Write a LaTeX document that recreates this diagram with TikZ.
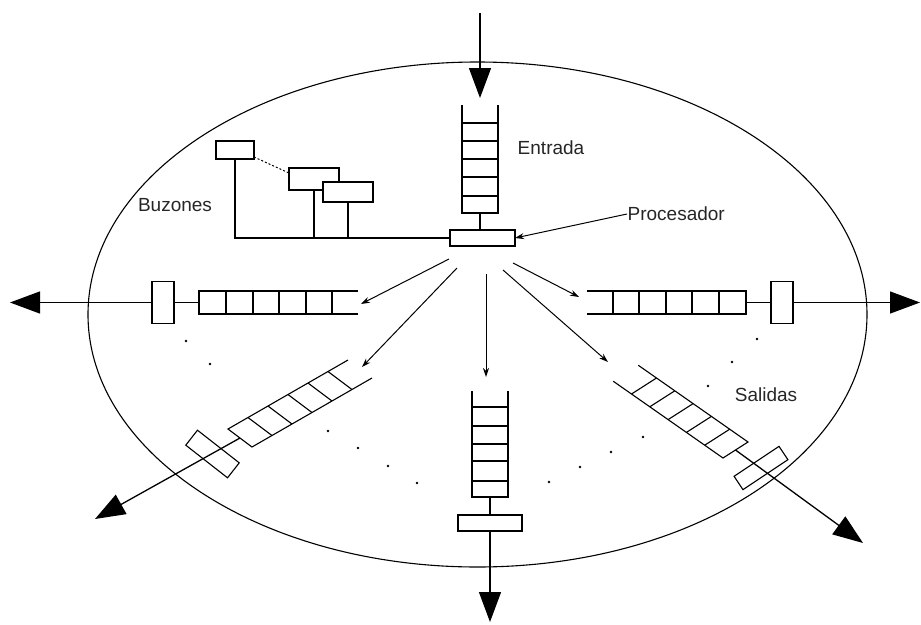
\documentclass[tikz,border=0pt]{standalone}
\usepackage{fontspec}
\setmainfont{Liberation Sans}
\usetikzlibrary{arrows.meta,calc}
\begin{document}
\begin{tikzpicture}[x=1pt,y=-1pt, line width=1.3pt,
  box/.style={draw, fill=white, inner sep=0pt, outer sep=0pt, line width=1.3pt},
  rbox/.style={draw, inner sep=0pt, outer sep=0pt, line width=1.1pt},
  lbl/.style={font=\fontsize{19}{22}\selectfont, inner sep=0pt, text=black!85},
  big/.style={-{Triangle[length=30pt,width=22pt]}},
  small/.style={-{Stealth[length=9pt,width=6pt]}, line width=1pt},
  qline/.style={line width=1.2pt},
  sline/.style={line width=1.1pt},
  dot/.style={circle, fill=black, inner sep=0pt, minimum size=2.6pt}]
\useasboundingbox (0,0) rectangle (921,624);

% outer ellipse
\draw[line width=1.1pt] (477.5,314.5) ellipse [x radius=389.5, y radius=252.5];

% labels
\node[lbl] (entrada) at (551,148) {Entrada};
\node[lbl] (buzones) at (175,205) {Buzones};
\node[lbl, anchor=west] (proclbl) at (627,214) {Procesador};
\node[lbl] (salidas) at (766,395) {Salidas};

% processor
\node[box, minimum width=65pt, minimum height=16pt] (proc) at (482.5,238) {};
\draw[small] (proclbl.west) -- (proc.east);

% mailboxes
\node[box, minimum width=38pt, minimum height=18pt] (mb1) at (235,150) {};
\node[box, minimum width=50pt, minimum height=22pt] (mb2) at (314,179) {};
\node[box, minimum width=50pt, minimum height=20pt] (mb3) at (348,192) {};
\draw (mb1.south) |- (proc.west);
\draw (mb2.south) -- (mb2.south |- proc.west);
\draw (mb3.south) -- (mb3.south |- proc.west);
\draw[line width=1pt, dash pattern=on 2pt off 2pt] ($(mb1.south east)+(0,-2)$) -- ($(mb2.north west)+(0,5)$);

% input queue (top)
\coordinate (qtopend) at (480,213);
\draw[qline] (462,105) -- (462,213) -- (498,213) -- (498,105);
\foreach \yy in {123,141,159,177,196} \draw[qline] (462,\yy) -- (498,\yy);
\draw (qtopend) -- (qtopend |- proc.north);
\coordinate (intop) at (480,13);
\coordinate (intip) at (480,98);
\draw[big] (intop) -- (intip);

% left output queue
\coordinate (qleftend) at (199,302.5);
\draw[qline] (358,291) -- (199,291) -- (199,314) -- (358,314);
\foreach \xx in {226,253,279,306,332} \draw[qline] (\xx,291) -- (\xx,314);
\node[box, minimum width=22pt, minimum height=42pt] (lbox) at (163,302.5) {};
\draw (qleftend) -- (lbox.east);
\coordinate (outleft) at (10,302.5);
\draw[big] (lbox.west) -- (outleft);

% right output queue
\coordinate (qrightend) at (746,302.5);
\draw[qline] (587,291) -- (746,291) -- (746,314) -- (587,314);
\foreach \xx in {613,639,666,692,719} \draw[qline] (\xx,291) -- (\xx,314);
\node[box, minimum width=22pt, minimum height=42pt] (rbox) at (782,302.5) {};
\draw (qrightend) -- (rbox.west);
\coordinate (outright) at (920,302.5);
\draw[big] (rbox.east) -- (outright);

% bottom output queue
\coordinate (qbotend) at (490,497);
\draw[qline] (472,391) -- (472,497) -- (508,497) -- (508,391);
\foreach \yy in {407,426,444,461,481} \draw[qline] (472,\yy) -- (508,\yy);
\node[box, minimum width=64pt, minimum height=16pt] (bbox) at (490,523) {};
\draw (qbotend) -- (bbox.north);
\coordinate (outbot) at (490,622);
\draw[big] (bbox.south) -- (outbot);

% lower-left output queue (slanted)
\coordinate (A0) at (228,429);
\coordinate (B0) at (252,447);
\draw[sline] ($(A0)+6*(20,-11.5)$) -- (A0) -- (B0) -- ($(B0)+6*(20,-11.5)$);
\foreach \i in {1,...,5} \draw[sline] ($(A0)+\i*(20,-11.5)$) -- ($(B0)+\i*(20,-11.5)$);
\coordinate (qllend) at ($(A0)!0.5!(B0)$);
\coordinate (outll) at (95,519);
\draw[big] (qllend) -- (outll);
\node[rbox, minimum width=53pt, minimum height=19pt, rotate=-38] (llbox) at (212.5,454) {};

% lower-right output queue (slanted)
\coordinate (C0) at (748,442);
\coordinate (D0) at (723,458);
\draw[sline] ($(C0)+6*(-18.3,-12.8)$) -- (C0) -- (D0) -- ($(D0)+6*(-18.3,-12.8)$);
\foreach \i in {1,...,5} \draw[sline] ($(C0)+\i*(-18.3,-12.8)$) -- ($(D0)+\i*(-18.3,-12.8)$);
\coordinate (qlrend) at ($(C0)!0.5!(D0)$);
\coordinate (outlr) at (863,543);
\draw[big] (qlrend) -- (outlr);
\node[rbox, minimum width=54pt, minimum height=16pt, rotate=33.7] (lrbox) at (761,468) {};

% dispatch arrows from the processor
\coordinate (d1s) at (449,259); \coordinate (d1e) at (361,304);
\coordinate (d2s) at (457,268); \coordinate (d2e) at (362,367);
\coordinate (d3s) at (486,274); \coordinate (d3e) at (486,377);
\coordinate (d4s) at (503,270); \coordinate (d4e) at (608,362);
\coordinate (d5s) at (513,263); \coordinate (d5e) at (579,297);
\foreach \k in {1,...,5} \draw[small] (d\k s) -- (d\k e);

% dots (more queues)
\foreach \p [count=\n] in {(186,341),(210,364),(328,431),(358,448),(388,466),(417,483),
  (757,339),(732,362),(708,386),(643,437),(611,452),(580,467),(549,482)}
  \node[dot] (dot\n) at \p {};
\end{tikzpicture}
\end{document}
